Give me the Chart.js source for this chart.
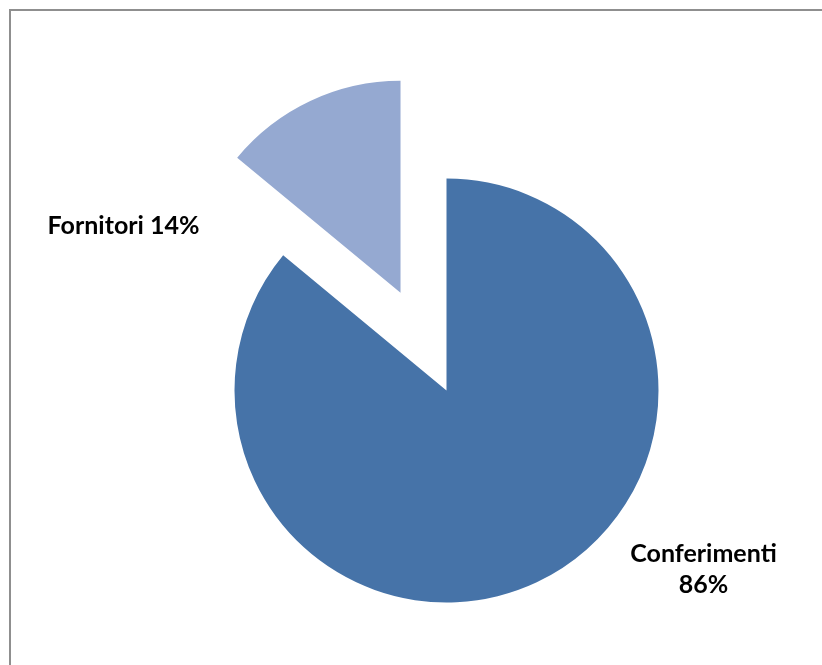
<!DOCTYPE html>
<html>
<head>
<meta charset="utf-8">
<script src="https://cdn.jsdelivr.net/npm/chart.js@4/dist/chart.umd.min.js"></script>
<style>
  html, body { margin: 0; padding: 0; background: #ffffff; }
  body { width: 822px; height: 665px; position: relative; overflow: hidden; }
  #frame {
    position: absolute; left: 9px; top: 9px; width: 900px; height: 700px;
    border-top: 2px solid #8f8f8f; border-left: 2px solid #8f8f8f;
  }
  #chart { position: absolute; left: 0; top: 0; }
</style>
</head>
<body>
<div id="frame"></div>
<canvas id="chart" width="822" height="665"></canvas>
<script>
// Ripartizione percentuale
const categories = ['Conferimenti', 'Fornitori'];
const shares = [86, 14];
const sliceColors = ['#4673A8', '#95A9D1'];
// distanza di esplosione di ciascuna fetta (px)
const explodeBy = [0, 108];

// Sposta le fette esplose lungo la bisettrice
const explodePlugin = {
  id: 'explode',
  afterUpdate(chart, args, opts) {
    const meta = chart.getDatasetMeta(0);
    meta.data.forEach((arc, i) => {
      const d = opts.distances[i] || 0;
      if (!d) return;
      const mid = (arc.startAngle + arc.endAngle) / 2;
      arc.x += Math.cos(mid) * d;
      arc.y += Math.sin(mid) * d;
    });
  }
};

// Etichette "categoria percentuale" accanto alle fette
const sliceLabelPlugin = {
  id: 'sliceLabels',
  afterDatasetsDraw(chart, args, opts) {
    const ctx = chart.ctx;
    const meta = chart.getDatasetMeta(0);
    const values = chart.data.datasets[0].data;
    const total = values.reduce((a, b) => a + b, 0);
    ctx.save();
    ctx.font = opts.font;
    ctx.fillStyle = opts.color;
    ctx.textAlign = 'center';
    ctx.textBaseline = 'alphabetic';
    meta.data.forEach((arc, i) => {
      const pct = Math.round(values[i] / total * 100) + '%';
      const name = chart.data.labels[i];
      const a = opts.anchors[i];
      const x = arc.x + a.dx;
      const y = arc.y + a.dy;
      if (a.split) {
        ctx.fillText(name, x, y);
        ctx.fillText(pct, x, y + opts.lineHeight);
      } else {
        ctx.fillText(name + ' ' + pct, x, y);
      }
    });
    ctx.restore();
  }
};

new Chart(document.getElementById('chart'), {
  type: 'pie',
  data: {
    labels: categories,
    datasets: [{
      data: shares,
      backgroundColor: sliceColors,
      borderWidth: 0
    }]
  },
  options: {
    responsive: false,
    animation: false,
    radius: 212,
    layout: { padding: { left: 71, right: 0, top: 116, bottom: 0 } },
    events: [],
    plugins: {
      legend: { display: false },
      tooltip: { enabled: false },
      explode: { distances: explodeBy },
      sliceLabels: {
        font: 'bold 25px Lato, "Liberation Sans", sans-serif',
        color: '#000000',
        lineHeight: 31,
        anchors: [
          { dx: 257, dy: 171.5, split: true },
          { dx: -277, dy: -59, split: false }
        ]
      }
    }
  },
  plugins: [explodePlugin, sliceLabelPlugin]
});
</script>
</body>
</html>
